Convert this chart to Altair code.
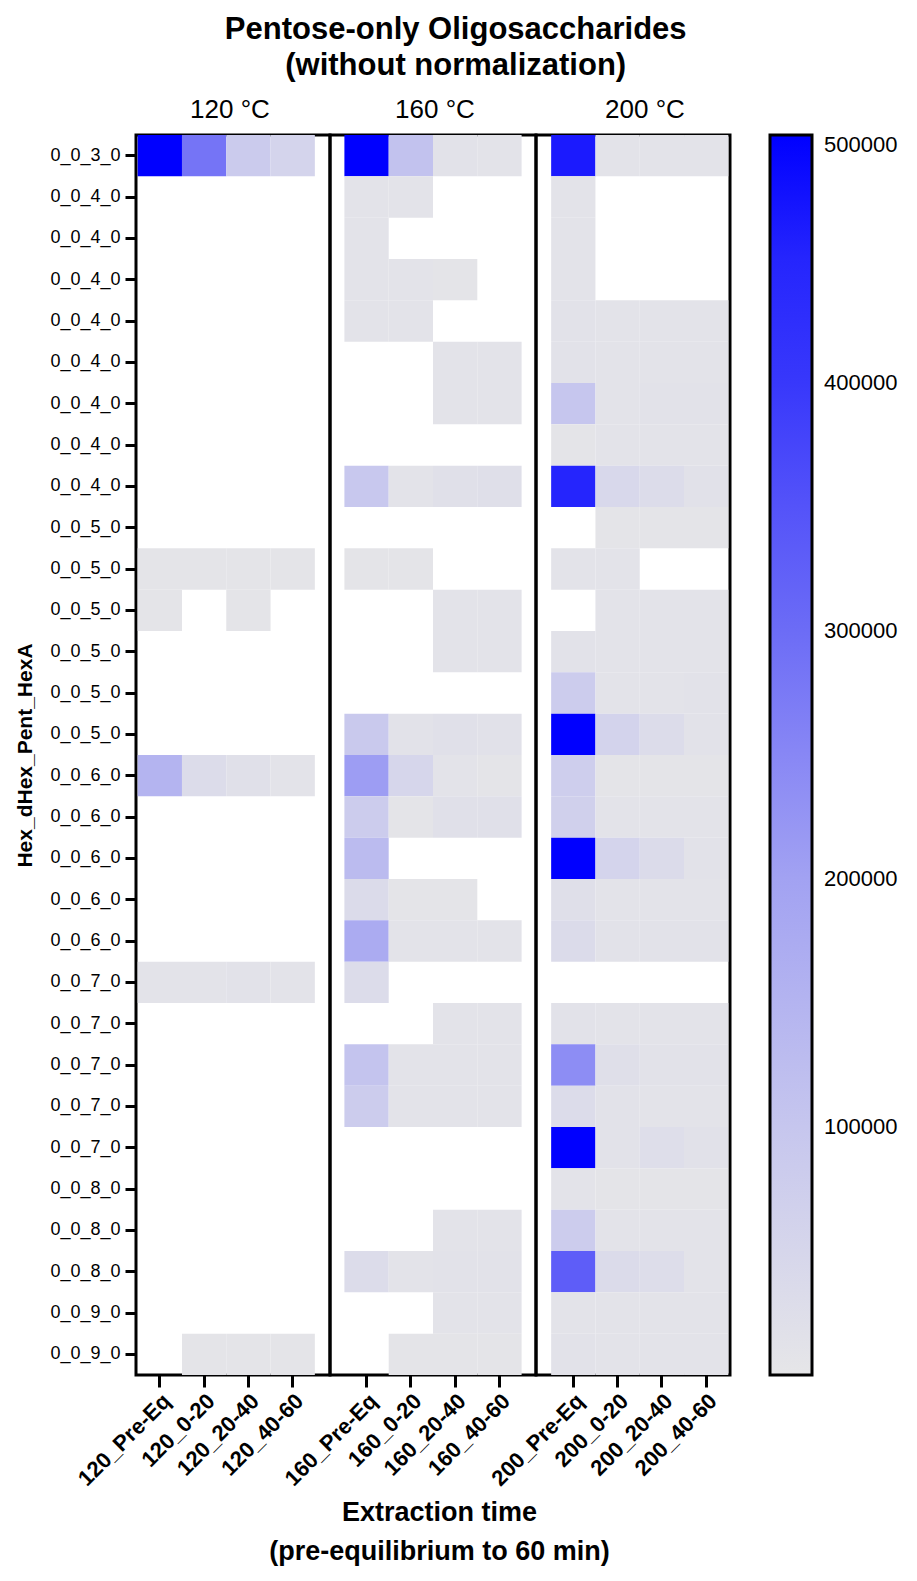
import json
import altair as alt
import pandas as pd

# ---------------- data ----------------
row_labels = (["0_0_3_0"] + ["0_0_4_0"] * 8 + ["0_0_5_0"] * 6 + ["0_0_6_0"] * 5
              + ["0_0_7_0"] * 5 + ["0_0_8_0"] * 3 + ["0_0_9_0"] * 2)

cols_120 = ["120_Pre-Eq", "120_0-20", "120_20-40", "120_40-60"]
cols_160 = ["160_Pre-Eq", "160_0-20", "160_20-40", "160_40-60"]
cols_200 = ["200_Pre-Eq", "200_0-20", "200_20-40", "200_40-60"]

N = None
# 30 rows each (top to bottom); None = no detection (white)
v120_pre = [520000, N, N, N, N, N, N, N, N, N, 6000, 6000, N, N, N, 150000, N, N, N, N, 8000, N, N, N, N, N, N, N, N, N]
v120_20 = [285000, N, N, N, N, N, N, N, N, N, 6000, N, N, N, N, 30000, N, N, N, N, 9000, N, N, N, N, N, N, N, N, 7000]
v120_40 = [85000, N, N, N, N, N, N, N, N, N, 7000, 5000, N, N, N, 18000, N, N, N, N, 12000, N, N, N, N, N, N, N, N, 7000]
v120_60 = [55000, N, N, N, N, N, N, N, N, N, 7000, N, N, N, N, 10000, N, N, N, N, 9000, N, N, N, N, N, N, N, N, 7000]

v160_pre = [510000, 9000, 9000, 9000, 10000, N, N, N, 95000, N, 7000, N, N, N, 90000, 210000, 80000, 130000, 35000, 175000, 30000, N, 105000, 80000, N, N, N, 30000, N, N]
v160_20 = [110000, 8000, N, 8000, 8000, N, N, N, 10000, N, 7000, N, N, N, 12000, 50000, 7000, N, 7000, 9000, N, N, 9000, 9000, N, N, N, 8000, N, 7000]
v160_40 = [12000, N, N, 7000, N, 8000, 9000, N, 20000, N, N, 9000, 9000, N, 20000, 9000, 20000, N, 7000, 9000, N, 8000, 10000, 9000, N, N, 8000, 12000, 8000, 7000]
v160_60 = [10000, N, N, N, N, 8000, 10000, N, 22000, N, N, 9000, 9000, N, 15000, 7000, 18000, N, N, 9000, N, 8000, 10000, 8000, N, N, 8000, 12000, 8000, 7000]

v200_pre = [470000, 10000, 10000, 10000, 14000, 14000, 100000, 5000, 450000, N, 10000, N, 12000, 80000, 520000, 75000, 70000, 520000, 22000, 35000, N, 12000, 240000, 30000, 520000, 9000, 80000, 330000, 10000, 11000]
v200_20 = [10000, N, N, N, 10000, 10000, 10000, 8000, 45000, 7000, 8000, 9000, 9000, 10000, 60000, 6000, 8000, 55000, 10000, 11000, N, 9000, 22000, 12000, 12000, 7000, 10000, 35000, 8000, 8000]
v200_40 = [10000, N, N, N, 10000, 9000, 12000, 8000, 30000, 7000, N, 9000, 9000, 9000, 30000, 6000, 10000, 35000, 10000, 12000, N, 9000, 14000, 9000, 25000, 7000, 10000, 28000, 8000, 8000]
v200_60 = [9000, N, N, N, 9000, 9000, 13000, 8000, 15000, 7000, N, 9000, 10000, 11000, 14000, 7000, 10000, 14000, 8000, 13000, N, 9000, 11000, 9000, 16000, 7000, 10000, 10000, 8000, 8000]

temps = ["120 °C", "160 °C", "200 °C"]
color_ticks = [100000, 200000, 300000, 400000, 500000]

# ---------------- styling ----------------
FONT = "Liberation Sans, Arial, Helvetica, sans-serif"
H = 1240

color_scale = alt.Scale(
    domain=[0, 100000, 200000, 300000, 400000, 500000],
    range=["#e6e6e8", "#c6c6ee", "#a2a2f2", "#6c6cf6", "#3838fb", "#0000ff"],
    clamp=True,
)

label_expr = json.dumps(row_labels) + "[datum.value]"


def build_df(cols, series):
    recs = []
    for c, vals in zip(cols, series):
        for i, v in enumerate(vals):
            if v is not None:
                recs.append({"row": i, "col": c, "value": v})
    return pd.DataFrame(recs)


def panel(idx, cols, series, width, pad, align, dx):
    df = build_df(cols, series)
    if idx == 0:
        yaxis = alt.Axis(
            title="Hex_dHex_Pent_HexA", labelExpr=label_expr,
            labelFont=FONT, labelFontSize=18, labelPadding=5,
            tickSize=11, tickWidth=3, tickColor="black", domain=False,
            titleFont=FONT, titleFontSize=21, titleFontWeight="bold",
            titlePadding=14, labelColor="black", titleColor="black",
        )
    else:
        yaxis = None
    xtitle = ["Extraction time", "(pre-equilibrium to 60 min)"] if idx == 1 else None
    xaxis_kwargs = dict(
        labelAngle=-45, labelAlign="right", labelBaseline="top",
        labelFont=FONT, labelFontSize=22, labelFontWeight="bold",
        labelPadding=3, tickSize=12, tickWidth=3, tickColor="black",
        domain=False, labelColor="black",
    )
    if xtitle:
        xaxis = alt.Axis(title=xtitle, titleFont=FONT, titleFontSize=27,
                         titleFontWeight="bold", titlePadding=10,
                         titleX=width / 2 + 6, titleAlign="center",
                         titleColor="black", titleLineHeight=39, **xaxis_kwargs)
    else:
        xaxis = alt.Axis(title=None, **xaxis_kwargs)
    return (
        alt.Chart(df)
        .mark_rect()
        .encode(
            x=alt.X("col:N", sort=cols, axis=xaxis,
                    scale=alt.Scale(domain=cols, paddingInner=0,
                                    paddingOuter=pad, align=align)),
            y=alt.Y("row:O", axis=yaxis,
                    scale=alt.Scale(domain=list(range(30)), paddingInner=0,
                                    paddingOuter=0)),
            color=alt.Color(
                "value:Q", scale=color_scale,
                legend=alt.Legend(
                    title=None, values=color_ticks, format="d",
                    gradientLength=H,
                    gradientThickness=42, gradientStrokeColor="black",
                    gradientStrokeWidth=3, labelFont=FONT,
                    labelFontSize=22, labelOffset=12, labelColor="black",
                    offset=38, direction="vertical",
                ),
            ),
        )
        .properties(
            width=width, height=H,
            title=alt.TitleParams(temps[idx], font=FONT, fontSize=26,
                                  fontWeight="normal", offset=12, dx=dx,
                                  anchor="middle", frame="group", color="black"),
        )
    )


p1 = panel(0, cols_120, [v120_pre, v120_20, v120_40, v120_60], 194, 0.19, 0.1, -3)
p2 = panel(1, cols_160, [v160_pre, v160_20, v160_40, v160_60], 206, 0.325, 0.5, 2)
p3 = panel(2, cols_200, [v200_pre, v200_20, v200_40, v200_60], 194, 0.19, 0.9, 12)

chart = (
    alt.hconcat(p1, p2, p3, spacing=0, bounds="flush")
    .resolve_scale(x="independent", y="shared", color="shared")
    .properties(
        title=alt.TitleParams(
            ["Pentose-only Oligosaccharides", "(without normalization)"],
            font=FONT, fontSize=31, fontWeight="bold", anchor="middle",
            lineHeight=36, offset=14, color="black",
        )
    )
    .configure_view(stroke="black", strokeWidth=3)
    .configure_axis(grid=False)
)

chart.save("out.html", embed_options={"renderer": "svg", "actions": False})
